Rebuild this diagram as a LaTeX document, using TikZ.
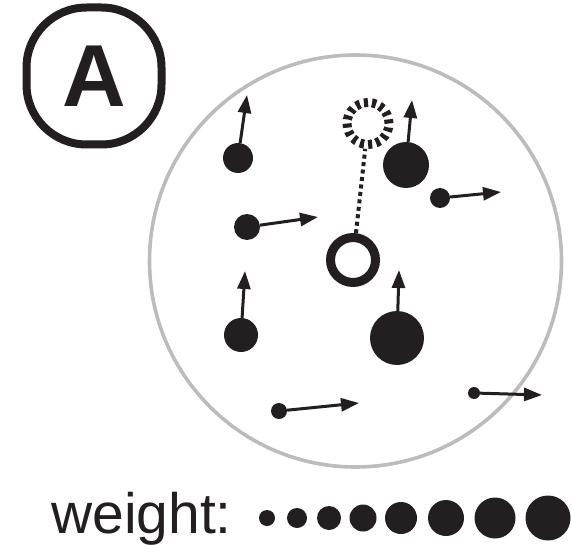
\documentclass[tikz,border=0pt]{standalone}
\usepackage{fontspec}
\setmainfont{Liberation Sans}
\usetikzlibrary{arrows.meta}

\definecolor{ink}{RGB}{35,31,32}
\definecolor{rim}{RGB}{188,188,191}

\tikzset{
  particle/.style={circle, fill=ink, draw=none, inner sep=0pt, minimum size=#1},
  velocity/.style={draw=ink, line width=3pt, -{Triangle[length=18pt,width=13pt]}},
  badge/.style={draw=ink, line width=8pt, rounded corners=60pt, inner sep=0pt,
                minimum width=135pt, minimum height=137pt,
                font=\fontsize{88}{88}\selectfont\bfseries, text=ink},
  target/.style={circle, draw=ink, line width=9pt, inner sep=0pt, minimum size=45pt},
  ghost/.style={circle, draw=ink, line width=9pt, inner sep=0pt, minimum size=42pt,
                dash pattern=on 4.12pt off 4.12pt},
  link/.style={draw=ink, line width=4pt, dash pattern=on 4pt off 3.5pt},
  legend/.style={font=\fontsize{57}{57}\selectfont, text=ink, inner sep=0pt}
}

\begin{document}
\begin{tikzpicture}[x=1pt, y=-1pt]
  \useasboundingbox (0,0) rectangle (572,545);

  % panel badge
  \node[badge] (badge) at (94,76) {A};

  % simulation region
  \draw[rim, line width=3.6pt] (355.5,261) circle[radius=206];

  % particles and their velocity vectors
  \node[particle=30pt] (p1) at (238,158) {};
  \coordinate (t1) at (247,95);
  \node[particle=26pt] (p2) at (247,227) {};
  \coordinate (t2) at (318,217);
  \node[particle=46pt] (p3) at (406,165) {};
  \coordinate (t3) at (412,100);
  \node[particle=20pt] (p4) at (440,198) {};
  \coordinate (t4) at (501,192);
  \node[particle=34pt] (p5) at (241,335) {};
  \coordinate (t5) at (245,271);
  \node[particle=54pt] (p6) at (397,338) {};
  \coordinate (t6) at (399,270);
  \node[particle=16pt] (p7) at (279,411) {};
  \coordinate (t7) at (359,403);
  \node[particle=12pt] (p8) at (474,393) {};
  \coordinate (t8) at (542,395);

  \foreach \i in {1,...,8} \draw[velocity] (p\i) -- (t\i);

  % tagged particle and its previous position
  \node[target] (now) at (353,260) {};
  \node[ghost] (prev) at (368,123.5) {};
  \draw[link] (now) -- (prev);

  % weight scale
  \node[legend, anchor=base west] (wlabel) at (51,533) {weight:};
  \node[particle=16pt] (w1) at (267,518) {};
  \node[particle=20pt] (w2) at (297,518) {};
  \node[particle=24pt] (w3) at (329,518) {};
  \node[particle=27pt] (w4) at (363,518) {};
  \node[particle=32pt] (w5) at (401,518) {};
  \node[particle=36pt] (w6) at (446,518) {};
  \node[particle=41pt] (w7) at (495,518) {};
  \node[particle=45pt] (w8) at (548,518) {};
\end{tikzpicture}
\end{document}
